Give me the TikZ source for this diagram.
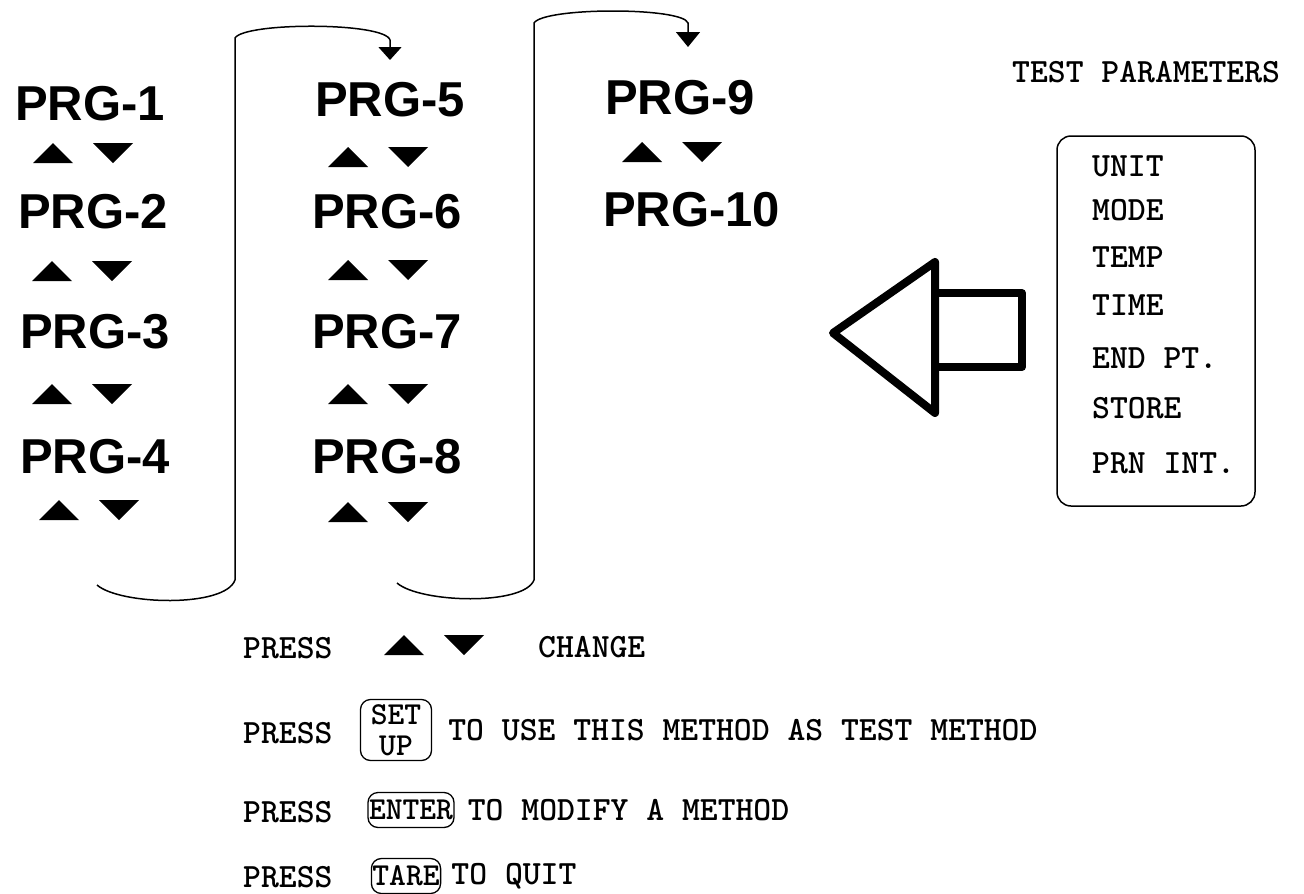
\documentclass[tikz,border=0pt]{standalone}
\usepackage{fontspec}
\usepackage{tikz}
\newfontfamily\prgfont{Liberation Sans}
\tikzset{node distance=2cm, auto}
\usetikzlibrary{arrows.meta}
\usetikzlibrary{positioning}

\begin{document}
\begin{tikzpicture}[x=1pt,y=-1pt]
\tikzset{
  updown/.pic={\fill (0,0) -- (40,0) -- (20,-20) -- cycle;
               \fill (60,-20) -- (100,-20) -- (80,0) -- cycle;},
  prg/.style={anchor=west, inner sep=0pt, font=\prgfont\bfseries\fontsize{49}{49}\selectfont},
  monotext/.style={anchor=west, inner sep=0pt, font=\ttfamily\bfseries\fontsize{34}{34}\selectfont},
  monobold/.style={anchor=west, inner sep=0pt, font=\ttfamily\bfseries\fontsize{34}{34}\selectfont},
  key/.style={draw, line width=1.3pt, rounded corners=10pt, inner sep=1pt, align=center,
              font=\ttfamily\bfseries\fontsize{32}{31}\selectfont},
  loop/.style={line width=1.5pt}
}
\useasboundingbox (0,0) rectangle (1304,894);

% first column
\node[prg] (P1) at (15,104) {PRG-1};
\node[prg] (P2) at (18,212) {PRG-2};
\node[prg] (P3) at (20,332) {PRG-3};
\node[prg] (P4) at (20,457) {PRG-4};
\pic at (33,163) {updown};
\pic at (32,281) {updown};
\pic at (32,404) {updown};
\pic at (39,520) {updown};

% second column
\node[prg] (P5) at (315,100) {PRG-5};
\node[prg] (P6) at (312,212) {PRG-6};
\node[prg] (P7) at (312,332) {PRG-7};
\node[prg] (P8) at (312,457) {PRG-8};
\pic at (328,167) {updown};
\pic at (328,280) {updown};
\pic at (328,404) {updown};
\pic at (328,522) {updown};

% third column
\node[prg] (P9) at (605,98) {PRG-9};
\node[prg] (P10) at (603,210) {PRG-10};
\pic at (622,162) {updown};

% page turns
\coordinate (A) at (97,585);
\coordinate (B) at (235,580);
\coordinate (C) at (235,38);
\coordinate (D) at (390,40);
\coordinate (E) at (390,60);
\draw[loop, -{Triangle[width=23pt,length=13pt]}] (A) .. controls (120,605) and (225,608) .. (B)
  -- (C) .. controls (245,22) and (385,22) .. (D) -- (E);

\coordinate (F) at (397,583);
\coordinate (G) at (534,580);
\coordinate (H) at (534,23);
\coordinate (I) at (688,23);
\coordinate (J) at (688,47);
\draw[loop, -{Triangle[width=24pt,length=15pt]}] (F) .. controls (420,603) and (524,606) .. (G)
  -- (H) .. controls (544,7) and (683,7) .. (I) -- (J);

% big arrow
\draw[line width=8pt, line join=round] (833,333) -- (935,262) -- (935,413) -- cycle;
\draw[line width=8pt, line join=round] (935,293) rectangle (1022,367);

% test parameters
\node[monobold] (title) at (1012,72) {TEST PARAMETERS};
\node[draw, line width=1.5pt, rounded corners=14pt, minimum width=198pt, minimum height=370pt] (parbox) at (1156,321) {};
\node[monobold] (unit) at (1092,166) {UNIT};
\node[monobold] (mode) at (1092,210) {MODE};
\node[monobold] (temp) at (1092,257) {TEMP};
\node[monobold] (time) at (1092,305) {TIME};
\node[monobold] (endpt) at (1092,358) {END PT.};
\node[monobold] (store) at (1092,408) {STORE};
\node[monobold] (prnint) at (1092,463) {PRN INT.};

% key help
\node[monotext] (press1) at (243,648) {PRESS};
\pic at (384,655) {updown};
\node[monobold] (change) at (538,647) {CHANGE};

\node[monotext] (press2) at (243,733) {PRESS};
\node[key, minimum width=71pt, minimum height=61pt] (setup) at (396,730) {SET\\UP};
\node[monotext, right=16pt of setup] (use) {TO USE THIS METHOD AS TEST METHOD};

\node[monotext] (press3) at (243,812) {PRESS};
\node[key, minimum height=35pt] (enter) at (411,810) {ENTER};
\node[monotext, right=13pt of enter] (modify) {TO MODIFY A METHOD};

\node[monotext] (press4) at (243,877) {PRESS};
\node[key, minimum height=35pt] (tare) at (406,876) {TARE};
\node[monotext, right=10pt of tare] (quit) {TO QUIT};
\end{tikzpicture}
\end{document}
